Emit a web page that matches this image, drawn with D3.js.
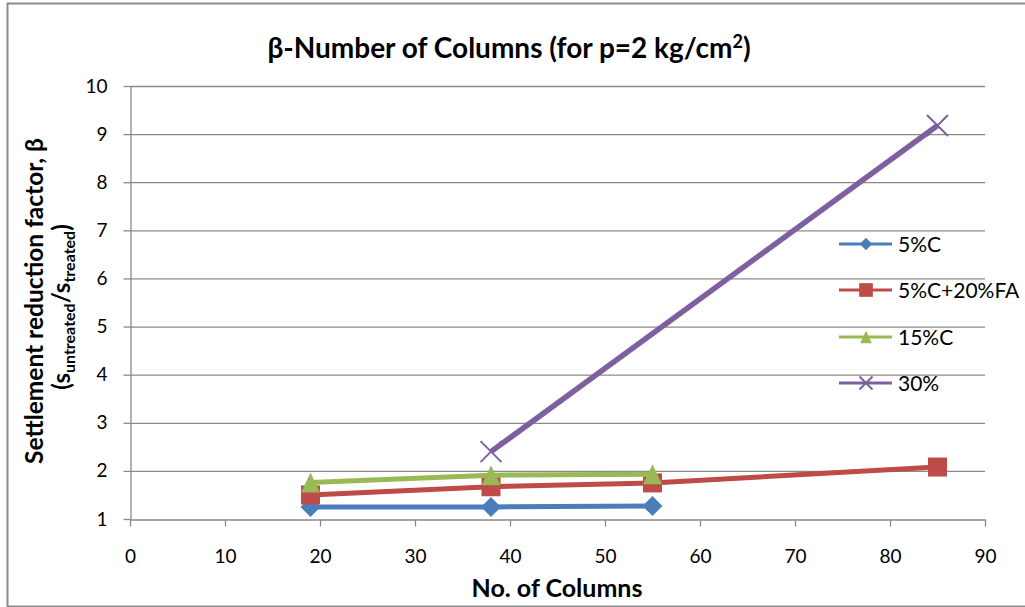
<!DOCTYPE html>
<html>
<head>
<meta charset="utf-8">
<script src="https://cdn.jsdelivr.net/npm/d3@7"></script>
<style>
  html, body { margin: 0; padding: 0; background: #fff; }
  svg { display: block; font-family: Lato, "Open Sans", "Liberation Sans", sans-serif; }
</style>
</head>
<body>
<svg id="chart" width="1025" height="607"></svg>
<script>
// Settlement reduction factor vs. number of stone columns
const seriesNames = ["5%C", "5%C+20%FA", "15%C", "30%"];
const seriesColors = ["#4a7ebb", "#be4b48", "#98b954", "#7d60a0"];
const seriesMarkers = ["diamond", "square", "triangle", "cross"];
const columns5C = [19, 38, 55];
const beta5C = [1.25, 1.25, 1.27];
const columns5CFA = [19, 38, 55, 85];
const beta5CFA = [1.50, 1.67, 1.75, 2.08];
const columns15C = [19, 38, 55];
const beta15C = [1.76, 1.91, 1.93];
const columns30 = [38, 85];
const beta30 = [2.40, 9.18];
const xTicks = [0, 10, 20, 30, 40, 50, 60, 70, 80, 90];
const yTicks = [1, 2, 3, 4, 5, 6, 7, 8, 9, 10];

const seriesX = [columns5C, columns5CFA, columns15C, columns30];
const seriesY = [beta5C, beta5CFA, beta15C, beta30];

const svg = d3.select("#chart");
const margin = { left: 130, right: 985, top: 86, bottom: 519 };

const x = d3.scaleLinear().domain([0, 90]).range([margin.left, margin.right]);
const y = d3.scaleLinear().domain([1, 10]).range([margin.bottom, margin.top]);

const gridColor = "#8a8a8a";

// outer chart frame
svg.append("rect")
  .attr("x", 7.5).attr("y", 3.5)
  .attr("width", 1030).attr("height", 603)
  .attr("fill", "none").attr("stroke", "#8c8c8c").attr("stroke-width", 2);

// horizontal gridlines
svg.append("g")
  .selectAll("line")
  .data(yTicks.slice(1))
  .join("line")
  .attr("x1", margin.left).attr("x2", margin.right)
  .attr("y1", d => y(d) + 0.5).attr("y2", d => y(d) + 0.5)
  .attr("stroke", gridColor).attr("stroke-width", 1.3);

// axes
const xAxis = svg.append("g")
  .attr("transform", `translate(0,${margin.bottom + 0.5})`)
  .call(d3.axisBottom(x).tickValues(xTicks).tickSize(7).tickPadding(23).tickSizeOuter(0));
const yAxis = svg.append("g")
  .attr("transform", `translate(${margin.left + 0.5},0)`)
  .call(d3.axisLeft(y).tickValues(yTicks).tickSize(7).tickPadding(16).tickSizeOuter(0));

[xAxis, yAxis].forEach(g => {
  g.selectAll("path.domain").attr("stroke", gridColor).attr("stroke-width", 1.3);
  g.selectAll(".tick line").attr("stroke", gridColor).attr("stroke-width", 1.3);
  g.selectAll(".tick text").attr("fill", "#000").style("font-size", "19px")
    .style("font-family", "Lato, 'Open Sans', sans-serif");
});

// marker shapes, box-centred on the data point
function drawMarker(g, kind, color, cx, cy, s) {
  if (kind === "cross") {
    const r = 10.5 * s;
    g.append("path")
      .attr("d", `M${cx - r},${cy - r}L${cx + r},${cy + r}M${cx - r},${cy + r}L${cx + r},${cy - r}`)
      .attr("stroke", color).attr("stroke-width", 2).attr("fill", "none");
    return;
  }
  let d;
  if (kind === "diamond") {
    const r = 10 * s;
    d = `M${cx},${cy - r}L${cx + r},${cy}L${cx},${cy + r}L${cx - r},${cy}Z`;
  } else if (kind === "square") {
    const r = 9.5 * s;
    d = `M${cx - r},${cy - r}H${cx + r}V${cy + r}H${cx - r}Z`;
  } else {
    const h = 10 * s, w = 9.5 * s;
    d = `M${cx},${cy - h}L${cx + w},${cy + h}L${cx - w},${cy + h}Z`;
  }
  g.append("path").attr("d", d).attr("fill", color).attr("stroke", "none");
}

const line = d3.line().x(d => x(d[0])).y(d => y(d[1]));

seriesNames.forEach((name, i) => {
  const pts = seriesX[i].map((v, j) => [v, seriesY[i][j]]);
  const g = svg.append("g");
  g.append("path")
    .datum(pts)
    .attr("d", line)
    .attr("fill", "none")
    .attr("stroke", seriesColors[i])
    .attr("stroke-width", i === 3 ? 5.5 : 5)
    .attr("stroke-linejoin", "round");
  pts.forEach(p => drawMarker(g, seriesMarkers[i], seriesColors[i], x(p[0]), y(p[1]), 1));
});

// legend
const legendRows = [244, 290, 337, 383];
seriesNames.forEach((name, i) => {
  const g = svg.append("g");
  const ly = legendRows[i];
  g.append("line")
    .attr("x1", 839).attr("x2", 892).attr("y1", ly).attr("y2", ly)
    .attr("stroke", seriesColors[i]).attr("stroke-width", 3);
  drawMarker(g, seriesMarkers[i], seriesColors[i], 866, ly, i === 1 ? 0.72 : 0.62);
  g.append("text")
    .attr("x", 898).attr("y", ly + 8)
    .style("font-size", "21px")
    .text(name);
});

// title
const title = svg.append("text")
  .attr("x", 509).attr("y", 58)
  .attr("text-anchor", "middle")
  .style("font-size", "28px").style("font-weight", "bold");
title.append("tspan").text("β-Number of Columns (for p=2 kg/cm");
title.append("tspan").attr("dy", -10).style("font-size", "18px").text("2");
title.append("tspan").attr("dy", 10).text(")");

// x-axis title
svg.append("text")
  .attr("x", 557).attr("y", 597)
  .attr("text-anchor", "middle")
  .style("font-size", "25px").style("font-weight", "bold")
  .text("No. of Columns");

// y-axis title (two lines)
const yt = svg.append("g").attr("transform", "translate(0,301) rotate(-90)");
yt.append("text")
  .attr("x", 0).attr("y", 43)
  .attr("text-anchor", "middle")
  .style("font-size", "24.5px").style("font-weight", "bold")
  .text("Settlement reduction factor, β");
const yt2 = yt.append("text")
  .attr("x", -6).attr("y", 70)
  .attr("text-anchor", "middle")
  .style("font-size", "24px").style("font-weight", "bold");
yt2.append("tspan").text("(s");
yt2.append("tspan").attr("dy", 5).style("font-size", "16px").text("untreated");
yt2.append("tspan").attr("dy", -5).text("/s");
yt2.append("tspan").attr("dy", 5).style("font-size", "16px").text("treated");
yt2.append("tspan").attr("dy", -5).text(")");
</script>
</body>
</html>
